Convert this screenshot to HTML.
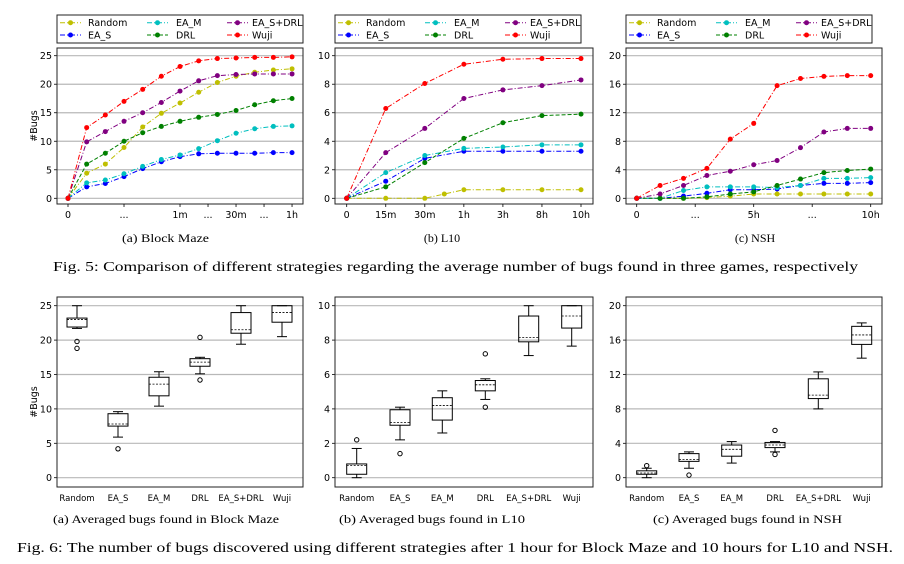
<!DOCTYPE html>
<html><head><meta charset="utf-8">
<style>
html,body{margin:0;padding:0;background:#fff;}
svg{display:block;}
.t{font-family:"DejaVu Sans","Liberation Sans",sans-serif;font-size:9.5px;fill:#000;}
.c{font-family:"Liberation Serif",serif;fill:#000;}
</style></head>
<body>
<svg id="s" width="904" height="564" xmlns="http://www.w3.org/2000/svg"></svg>
<script>
const S=document.getElementById('s');let h='';
const col={Random:'#bfbf00',EA_S:'#0000ff',EA_M:'#00bfbf',DRL:'#008000','EA_S+DRL':'#800080',Wuji:'#ff0000'};
const dash={Random:'5,2,1,2',EA_S:'5,2,1,2',EA_M:'5,2,1,2',DRL:'4,2','EA_S+DRL':'5,2,1,2',Wuji:'5,2,1,2'};
function frame(x0,x1,y0,y1,ymax,ticks,ybase,ytop){
  const sy=v=>ybase-(v/ymax)*(ybase-ytop);
  for(const t of ticks){const y=sy(t);
    h+=`<line x1="${x0}" x2="${x1}" y1="${y}" y2="${y}" stroke="#b8b8b8" stroke-width="1.2"/>`;
    h+=`<line x1="${x0-3}" x2="${x0}" y1="${y}" y2="${y}" stroke="#000" stroke-width="0.8"/>`;
    h+=`<text class="t" x="${x0-5}" y="${y+3.5}" text-anchor="end">${t}</text>`;}
  h+=`<rect x="${x0}" y="${y0}" width="${x1-x0}" height="${y1-y0}" fill="none" stroke="#222" stroke-width="1"/>`;
  return sy;
}
function legend(x0){
  h+=`<rect x="${x0}" y="15" width="246" height="28" fill="#fff" stroke="#222" stroke-width="1"/>`;
  const items=[['Random',3,22.7],['EA_S',3,35],['EA_M',90,22.7],['DRL',90,35],['EA_S+DRL',170,22.7],['Wuji',170,35]];
  for(const [n,dx,y] of items){const a=x0+dx;
    h+=`<line x1="${a}" x2="${a+21}" y1="${y}" y2="${y}" stroke="${col[n]}" stroke-width="1" stroke-dasharray="${dash[n]}"/><circle cx="${a+10.5}" cy="${y}" r="2.5" fill="${col[n]}"/>`;
    h+=`<text class="t" x="${a+(dx==3?28:dx==90?29:25)}" y="${y+3.5}">${n}</text>`;}
}
function lines(sy,xs,data){
  for(const n of ['Random','EA_S','EA_M','DRL','EA_S+DRL','Wuji']){const d=data[n];const xx=d.x||xs;const v=d.v||d;
    const pts=v.map((q,i)=>`${xx[i]},${sy(q)}`).join(' ');
    h+=`<polyline points="${pts}" fill="none" stroke="${col[n]}" stroke-width="1" stroke-dasharray="${dash[n]}"/>`;
    v.forEach((q,i)=>h+=`<circle cx="${xx[i]}" cy="${sy(q)}" r="2.5" fill="${col[n]}"/>`);}
}
function xt(x,lbl,y){h+=`<line x1="${x}" x2="${x}" y1="${y}" y2="${y+3}" stroke="#000" stroke-width="0.8"/><text class="t" x="${x}" y="${y+14}" text-anchor="middle">${lbl}</text>`;}
// ---- Top A
let sy=frame(57,303,48,204,25,[0,5,10,15,20,25],198.3,55.7);
let xs=[];for(let i=0;i<13;i++)xs.push(68+i*18.67);
lines(sy,xs,{Random:[0,4.4,6,8.9,12.5,14.9,16.7,18.6,20.3,21.4,22.1,22.5,22.7],
EA_S:[0,2,2.6,3.8,5.2,6.4,7.3,7.8,7.9,7.9,7.9,8.0,8.0],
EA_M:[0,2.7,3.2,4.3,5.6,6.8,7.6,8.7,10.1,11.4,12.2,12.6,12.7],
DRL:[0,6,7.9,10,11.5,12.6,13.5,14.2,14.7,15.4,16.4,17.1,17.5],
'EA_S+DRL':[0,9.9,11.7,13.5,15,16.8,18.8,20.6,21.5,21.7,21.8,21.8,21.8],
Wuji:[0,12.4,14.6,17,19.1,21.4,23.1,24.1,24.5,24.6,24.7,24.7,24.8]});
[[0,'0'],[3,'...'],[6,'1m'],[7.5,'...'],[9,'30m'],[10.5,'...'],[12,'1h']].forEach(([i,l])=>xt(68+i*18.67,l,204));
legend(57);
h+=`<text class="t" transform="translate(37,126) rotate(-90)" text-anchor="middle">#Bugs</text>`;
// ---- Top B
sy=frame(335,593,48,204,10,[0,2,4,6,8,10],198.3,55.7);
xs=[];for(let i=0;i<7;i++)xs.push(346.7+i*39.05);
const xr=[xs[0],xs[1],xs[2],xs[2]+19.5,xs[3],xs[4],xs[5],xs[6]];
lines(sy,xs,{Random:{x:xr,v:[0,0,0,0.3,0.6,0.6,0.6,0.6]},
EA_S:[0,1.2,2.8,3.3,3.3,3.3,3.3],EA_M:[0,1.8,3.0,3.5,3.6,3.75,3.75],
DRL:[0,0.8,2.5,4.2,5.3,5.8,5.9],'EA_S+DRL':[0,3.2,4.9,7.0,7.6,7.9,8.3],
Wuji:[0,6.3,8.05,9.4,9.75,9.8,9.8]});
['0','15m','30m','1h','3h','8h','10h'].forEach((l,i)=>xt(xs[i],l,204));
legend(335);
// ---- Top C
sy=frame(626,882,48,204,20,[0,4,8,12,16,20],198.3,55.7);
xs=[];for(let i=0;i<11;i++)xs.push(636.7+i*23.4);
lines(sy,xs,{Random:[0,0,0,0.1,0.3,0.6,0.6,0.6,0.6,0.6,0.6],
EA_S:[0,0,0.3,0.7,1.2,1.2,1.3,1.8,2.1,2.1,2.2],
EA_M:[0,0,1.1,1.6,1.6,1.6,1.5,1.8,2.8,2.8,2.9],
DRL:[0,0,0,0.2,0.6,0.9,1.8,2.7,3.6,3.9,4.1],
'EA_S+DRL':[0,0.6,1.8,3.2,3.8,4.7,5.3,7.1,9.3,9.8,9.8],
Wuji:[0,1.8,2.8,4.2,8.3,10.5,15.8,16.8,17.1,17.2,17.2]});
[[0,'0'],[2.5,'...'],[5,'5h'],[7.5,'...'],[10,'10h']].forEach(([i,l])=>xt(636.7+i*23.4,l,204));
legend(626);
// ---- Boxes
const names=['Random','EA_S','EA_M','DRL','EA_S+DRL','Wuji'];
function boxes(sy,cx,B){
  B.forEach((b,i)=>{const x=cx[i],w=20;const [wl,wh,q1,q3,md,outs]=b;
    h+=`<line x1="${x}" x2="${x}" y1="${sy(wl)}" y2="${sy(q1)}" stroke="#000"/><line x1="${x}" x2="${x}" y1="${sy(q3)}" y2="${sy(wh)}" stroke="#000"/>`;
    h+=`<line x1="${x-5}" x2="${x+5}" y1="${sy(wl)}" y2="${sy(wl)}" stroke="#000"/><line x1="${x-5}" x2="${x+5}" y1="${sy(wh)}" y2="${sy(wh)}" stroke="#000"/>`;
    h+=`<rect x="${x-w/2}" y="${sy(q3)}" width="${w}" height="${sy(q1)-sy(q3)}" fill="none" stroke="#000"/>`;
    h+=`<line x1="${x-w/2}" x2="${x+w/2}" y1="${sy(md)}" y2="${sy(md)}" stroke="#000" stroke-width="0.8" stroke-dasharray="2,1.5"/>`;
    outs.forEach(o=>h+=`<circle cx="${x}" cy="${sy(o)}" r="2.2" fill="none" stroke="#000" stroke-width="1"/>`);
    h+=`<text class="t" x="${x}" y="${501}" text-anchor="middle" style="font-size:8.5px">${names[i]}</text>`;
  });
}
sy=frame(57,303,297,487,25,[0,5,10,15,20,25],477.7,305.7);
boxes(sy,[77,118,159,200,241,282],[[21.7,25,21.9,23.2,23.0,[19.8,18.8]],[5.9,9.6,7.5,9.3,7.8,[4.2]],[10.4,15.4,11.9,14.6,13.6,[]],[15.1,17.5,16.2,17.3,16.8,[20.4,14.2]],[19.4,25,21,24,21.5,[]],[20.5,25,22.6,25,24.0,[]]]);
h+=`<text class="t" transform="translate(37,402) rotate(-90)" text-anchor="middle">#Bugs</text>`;
sy=frame(335,593,297,487,10,[0,2,4,6,8,10],477.7,305.7);
boxes(sy,[356.7,400,442.3,485.3,528.7,571.7],[[0,1.7,0.2,0.8,0.7,[2.2]],[2.2,4.1,3.05,3.95,3.2,[1.4]],[2.6,5.05,3.35,4.65,4.2,[]],[4.55,5.75,5.05,5.65,5.4,[7.2,4.1]],[7.1,10,7.9,9.4,8.15,[]],[7.65,10,8.7,10,9.4,[]]]);
sy=frame(626,882,297,487,20,[0,4,8,12,16,20],477.7,305.7);
boxes(sy,[646.7,689,731.7,775,818.3,861.7],[[0,1.1,0.4,0.8,0.55,[1.4]],[1.1,3.0,1.9,2.8,2.1,[0.3]],[1.7,4.2,2.5,3.8,3.3,[]],[3.0,4.2,3.5,4.1,3.8,[5.5,2.7]],[8.0,12.3,9.2,11.5,9.6,[]],[13.9,18.0,15.5,17.6,16.6,[]]]);
// ---- Captions
function cap(x,y,t,sz,len,anchor){h+=`<text class="c" x="${x}" y="${y}" style="font-size:${sz}px" ${len?`textLength="${len}" lengthAdjust="spacingAndGlyphs"`:''} ${anchor?'text-anchor="middle"':''}>${t}</text>`;}
cap(122,242,'(a) Block Maze',12,87);
cap(442,242,'(b) L10',12,0,1);
cap(755,242,'(c) NSH',12,0,1);
cap(53,271,'Fig. 5: Comparison of different strategies regarding the average number of bugs found in three games, respectively',14,805);
cap(53,523,'(a) Averaged bugs found in Block Maze',12,226);
cap(339,523,'(b) Averaged bugs found in L10',12,186);
cap(653,523,'(c) Averaged bugs found in NSH',12,189);
cap(17,552,'Fig. 6: The number of bugs discovered using different strategies after 1 hour for Block Maze and 10 hours for L10 and NSH.',14,876);
S.innerHTML=h;
</script>
</body></html>
